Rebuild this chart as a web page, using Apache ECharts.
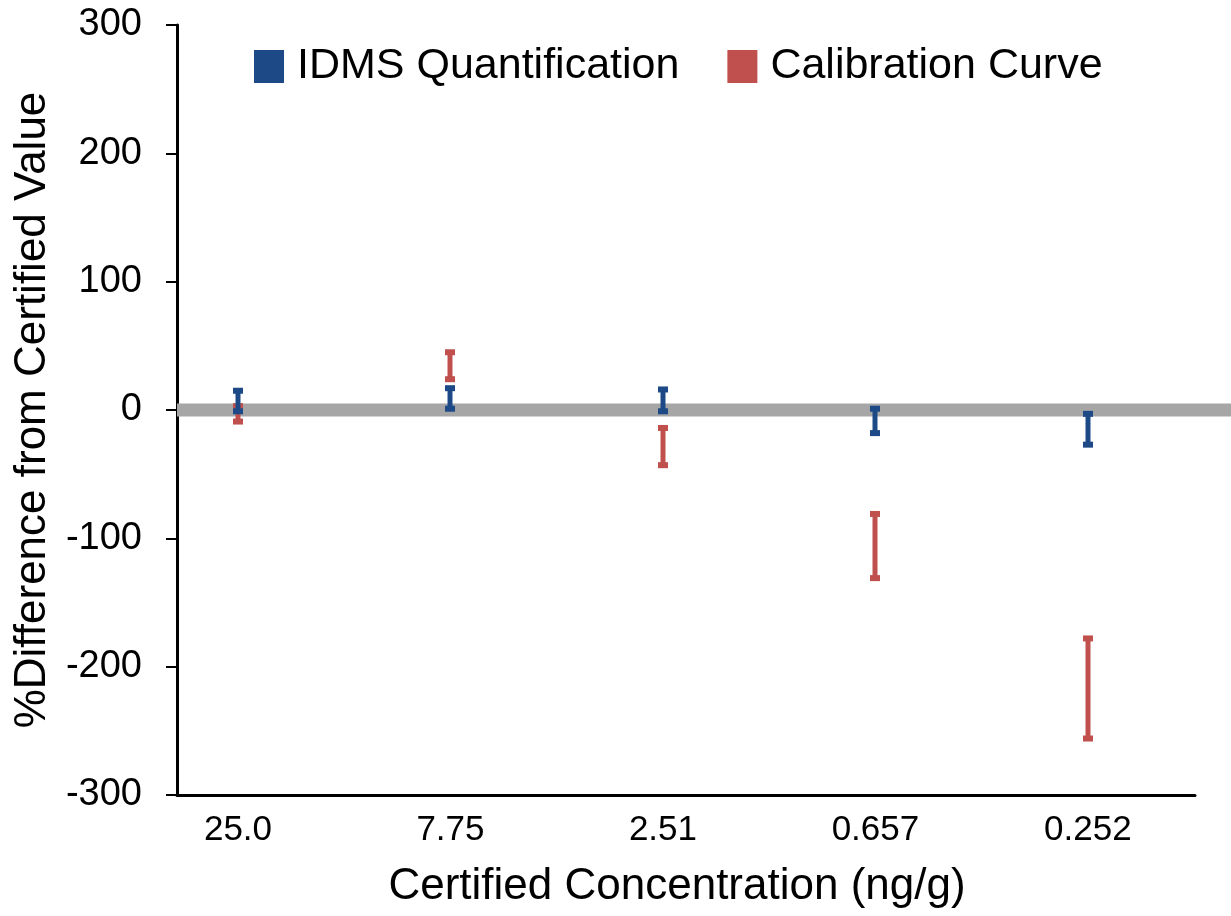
<!DOCTYPE html>
<html>
<head>
<meta charset="utf-8">
<script src="https://cdn.jsdelivr.net/npm/echarts@6/dist/echarts.min.js"></script>
<style>
html,body{margin:0;padding:0;background:#fff;}
#chart{width:1231px;height:916px;}
</style>
</head>
<body>
<div id="chart"></div>
<script>
const categories = ['25.0', '7.75', '2.51', '0.657', '0.252'];
const idmsHigh = [15, 17, 16, 1, -3];
const idmsLow = [-1, 1, -1, -18, -27];
const calHigh = [3, 45, -14, -81, -178];
const calLow = [-9, 24, -43, -131, -256];
const yTicks = [-300, -200, -100, 0, 100, 200, 300];
const zeroLine = 0;

const font = "'Liberation Sans', Arial, Helvetica, sans-serif";
const blue = '#1d4a86';
const red = '#c0504d';

function errorItem(color) {
  return function (params, api) {
    const x = api.value(0);
    const hi = api.coord([x, api.value(1)]);
    const lo = api.coord([x, api.value(2)]);
    const cx = Math.round(hi[0]);
    return {
      type: 'group',
      children: [
        {type: 'rect', shape: {x: cx - 2.5, y: hi[1], width: 5, height: lo[1] - hi[1]}, style: {fill: color}},
        {type: 'rect', shape: {x: cx - 5, y: hi[1] - 3, width: 10, height: 6}, style: {fill: color}},
        {type: 'rect', shape: {x: cx - 5, y: lo[1] - 3, width: 10, height: 6}, style: {fill: color}}
      ]
    };
  };
}

const idmsData = categories.map((c, i) => [i, idmsHigh[i], idmsLow[i]]);
const calData = categories.map((c, i) => [i, calHigh[i], calLow[i]]);

const chart = echarts.init(document.getElementById('chart'));
chart.setOption({
  animation: false,
  backgroundColor: '#fff',
  legend: {
    top: 40,
    left: 249,
    itemWidth: 30,
    itemHeight: 33,
    itemGap: 48,
    icon: 'rect',
    data: ['IDMS Quantification', 'Calibration Curve'],
    textStyle: {fontFamily: font, fontSize: 43, color: '#000', padding: [0, 0, 0, 8]}
  },
  grid: [
    {left: 177, right: 36, top: 25, bottom: 121},
    {left: 177, right: 0, top: 25, bottom: 121}
  ],
  xAxis: [
    {
      type: 'value',
      gridIndex: 0,
      min: -0.287,
      max: 4.504,
      splitLine: {show: false},
      axisTick: {show: false},
      axisLine: {show: true, onZero: false, lineStyle: {color: '#000', width: 3}},
      axisLabel: {
        customValues: categories.map((c, i) => i),
        formatter: function (v) { return categories[Math.round(v)]; },
        fontFamily: font, fontSize: 35, color: '#000', margin: 18
      },
      name: 'Certified Concentration (ng/g)',
      nameLocation: 'middle',
      nameGap: 70,
      nameTextStyle: {fontFamily: font, fontSize: 44, color: '#000', padding: [0, 18, 0, 0]}
    },
    {type: 'value', gridIndex: 1, min: 0, max: 1, show: false}
  ],
  yAxis: [
    {
      type: 'value',
      gridIndex: 0,
      min: yTicks[0],
      max: yTicks[yTicks.length - 1],
      interval: 100,
      splitLine: {show: false},
      axisLine: {show: true, onZero: false, lineStyle: {color: '#000', width: 3}},
      axisTick: {show: true, length: 11, lineStyle: {color: '#000', width: 2}},
      axisLabel: {fontFamily: font, fontSize: 38, color: '#000', margin: 35},
      name: '%Difference from Certified Value',
      nameLocation: 'middle',
      nameGap: 113,
      nameTextStyle: {fontFamily: font, fontSize: 44, color: '#000'}
    },
    {type: 'value', gridIndex: 1, min: yTicks[0], max: yTicks[yTicks.length - 1], show: false}
  ],
  series: [
    {
      name: 'zero',
      type: 'line',
      xAxisIndex: 1,
      yAxisIndex: 1,
      symbol: 'none',
      silent: true,
      z: 1,
      lineStyle: {color: '#a6a6a6', width: 13},
      data: [[0, zeroLine], [1, zeroLine]]
    },
    {
      name: 'IDMS Quantification',
      type: 'custom',
      xAxisIndex: 0,
      yAxisIndex: 0,
      z: 5,
      itemStyle: {color: blue},
      renderItem: errorItem(blue),
      encode: {x: 0, y: [1, 2]},
      data: idmsData
    },
    {
      name: 'Calibration Curve',
      type: 'custom',
      xAxisIndex: 0,
      yAxisIndex: 0,
      z: 4,
      itemStyle: {color: red},
      renderItem: errorItem(red),
      encode: {x: 0, y: [1, 2]},
      data: calData
    }
  ]
});
</script>
</body>
</html>
